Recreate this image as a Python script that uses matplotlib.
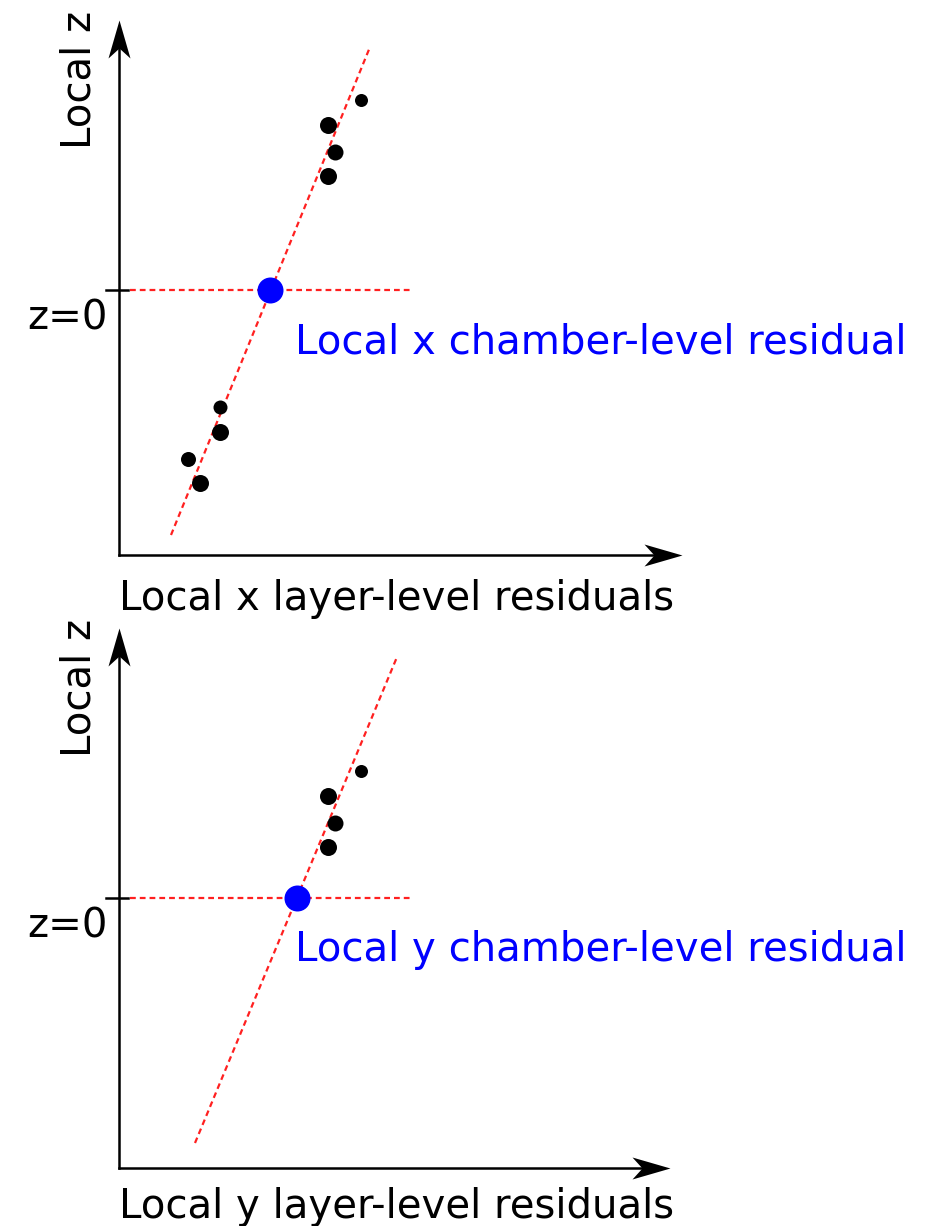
import numpy as np
import matplotlib.pyplot as plt
from matplotlib.path import Path

plt.rcParams['font.family'] = ['DejaVu Sans']

# layer hits (x or y residual, local z) and the chamber-level fit for each view
top_x = [4.84, 4.18, 4.32, 4.18, 2.02, 2.02, 1.38, 1.62]
top_z = [3.80, 3.30, 2.76, 2.28, -2.34, -2.84, -3.38, -3.86]
top_fit_x = [1.04, 5.02]
top_fit_z = [-4.90, 4.86]
top_resid = 3.02

bot_x = [4.84, 4.18, 4.32, 4.18]
bot_z = [2.54, 2.04, 1.50, 1.02]
bot_fit_x = [1.52, 5.56]
bot_fit_z = [-4.90, 4.82]
bot_resid = 3.56

xlabels = ['Local x layer-level residuals', 'Local y layer-level residuals']
reslabels = ['Local x chamber-level residual', 'Local y chamber-level residual']

W, H = 940, 1226
PX = 50.0  # pixels per data unit
FS = 29

fig = plt.figure(figsize=(W / 100, H / 100), dpi=100)


def stealth(angle):
    # arrow head with a notched back, tip at the origin
    v = np.array([[0, 0], [-11, -38], [0, -28], [11, -38], [0, 0]], float)
    c, s = np.cos(angle), np.sin(angle)
    rot = np.array([[c, -s], [s, c]])
    v = v @ rot.T
    return Path(v, [Path.MOVETO, Path.LINETO, Path.LINETO, Path.LINETO, Path.CLOSEPOLY])


def panel(ox, oy, zero_y, x_tip, y_tip, xs, zs, fit_x, fit_z, resid, xlab, rlab, dot_px):
    # ox, oy: pixel origin of the axes; zero_y: pixel row of z=0
    xmax = (x_tip - ox) / PX
    zmin = (zero_y - oy) / PX
    zmax = (zero_y - y_tip) / PX
    ax = fig.add_axes([ox / W, 1 - oy / H, (x_tip - ox) / W, (oy - y_tip) / H])
    ax.set_xlim(0, xmax)
    ax.set_ylim(zmin, zmax)
    ax.axis('off')

    # axes with arrow heads
    ax.plot([0, 0], [zmin, zmax - 0.3], color='black', lw=1.8, clip_on=False)
    ax.plot([0, xmax - 0.3], [zmin, zmin], color='black', lw=1.8, clip_on=False)
    ax.plot([0], [zmax], marker=stealth(0), ms=76 * 0.72, color='black',
            mew=0, clip_on=False)
    ax.plot([xmax], [zmin], marker=stealth(-np.pi / 2), ms=76 * 0.72, color='black',
            mew=0, clip_on=False)
    ax.plot([-0.26, 0.18], [0, 0], color='black', lw=1.8, clip_on=False)

    # z=0 level and the straight-line fit
    ax.plot([0.22, 5.88], [0, 0], color='#ff2020', lw=1.6, ls=(0, (2.6, 1.8)))
    ax.plot(fit_x, fit_z, color='#ff2020', lw=1.6, ls=(0, (2.6, 1.8)))

    for x, z, d in zip(xs, zs, dot_px):
        ax.plot(x, z, 'o', color='black', ms=d * 0.72, mew=0)
    ax.plot(resid, 0, 'o', color='#0000ff', ms=26 * 0.72, mew=0)

    ax.text(-0.78, 4.2, 'Local z', rotation=90, ha='center', va='center',
            fontsize=FS, clip_on=False)
    ax.text(-0.22, -0.58, 'z=0', ha='right', va='center', fontsize=FS, clip_on=False)
    ax.text(3.52, -1.27, rlab, ha='left', va='baseline', color='#0000ff',
            fontsize=FS, clip_on=False)
    ax.text(0, -6.4, xlab, ha='left', va='baseline', fontsize=FS, clip_on=False)
    return ax


panel(119, 555, 290, 682, 20, top_x, top_z, top_fit_x, top_fit_z, top_resid,
      xlabels[0], reslabels[0], [13, 17, 16, 17, 14, 17, 15, 17])
panel(119, 1168, 898, 670, 628, bot_x, bot_z, bot_fit_x, bot_fit_z, bot_resid,
      xlabels[1], reslabels[1], [13, 17, 16, 17])

fig.savefig('out.png', dpi=100)
